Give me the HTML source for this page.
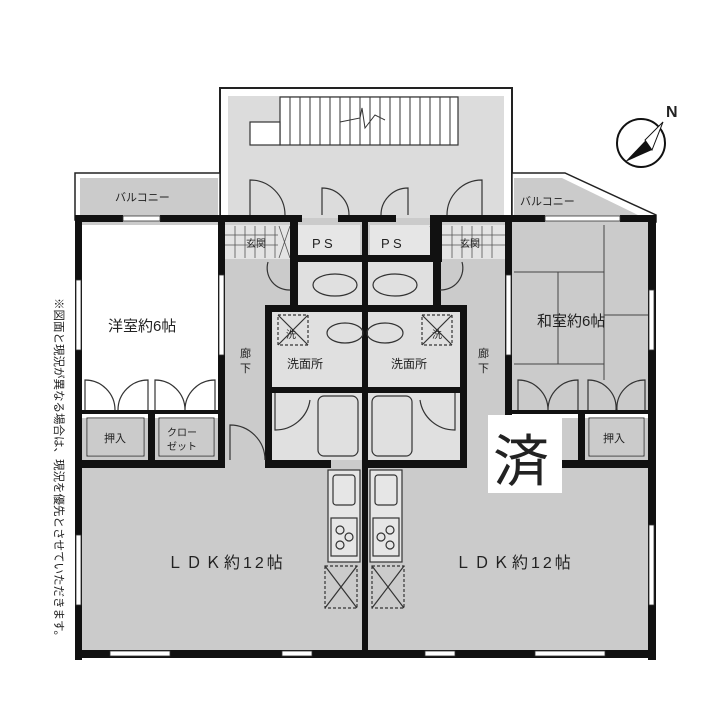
<!DOCTYPE html>
<html><head><meta charset="utf-8"><style>
html,body{margin:0;padding:0;background:#fff;}
svg{display:block}
text{font-family:"Liberation Sans","Noto Sans CJK JP",sans-serif;fill:#222}
</style></head><body>
<svg width="720" height="707" viewBox="0 0 720 707" xmlns="http://www.w3.org/2000/svg">
<rect width="720" height="707" fill="#fff"/>
<!-- stair block -->
<rect x="220" y="88" width="292" height="132" fill="#fff" stroke="#222" stroke-width="2"/>
<rect x="228" y="96" width="276" height="124" fill="#dcdcdc"/>
<rect x="280" y="97" width="178" height="48" fill="#fff" stroke="#333" stroke-width="1.2"/>
<rect x="250" y="122" width="30" height="23" fill="#fff" stroke="#333" stroke-width="1.2"/>
<g stroke="#333" stroke-width="1">
<line x1="290" y1="97" x2="290" y2="145"/><line x1="300" y1="97" x2="300" y2="145"/><line x1="310" y1="97" x2="310" y2="145"/><line x1="320" y1="97" x2="320" y2="145"/><line x1="330" y1="97" x2="330" y2="145"/><line x1="340" y1="97" x2="340" y2="145"/><line x1="350" y1="97" x2="350" y2="145"/><line x1="360" y1="97" x2="360" y2="145"/><line x1="370" y1="97" x2="370" y2="145"/><line x1="380" y1="97" x2="380" y2="145"/><line x1="390" y1="97" x2="390" y2="145"/><line x1="400" y1="97" x2="400" y2="145"/><line x1="410" y1="97" x2="410" y2="145"/><line x1="420" y1="97" x2="420" y2="145"/><line x1="430" y1="97" x2="430" y2="145"/><line x1="440" y1="97" x2="440" y2="145"/><line x1="450" y1="97" x2="450" y2="145"/>
<polyline points="340,122 360,118 362,108 365,128 375,115 385,120" fill="none"/>
</g>
<!-- balconies -->
<rect x="75" y="173" width="145" height="47" fill="#fff" stroke="#222" stroke-width="1.5"/>
<rect x="80" y="178" width="138" height="40" fill="#cbcbcb"/>
<text x="115" y="201" font-size="11">バルコニー</text>
<polygon points="512,173 565,173 656,215 656,222 512,222" fill="#fff" stroke="#222" stroke-width="1.5"/>
<polygon points="514,178 562,178 640,216 514,216" fill="#cbcbcb"/>
<text x="520" y="205" font-size="11">バルコニー</text>
<!-- interior fills -->
<rect x="78" y="218" width="578" height="440" fill="#cbcbcb"/>
<rect x="82" y="225" width="136" height="185" fill="#fff"/>
<rect x="225" y="225" width="65" height="34" fill="#e4e4e4"/>
<rect x="442" y="225" width="63" height="34" fill="#e4e4e4"/>
<rect x="298" y="225" width="62" height="33" fill="#e6e6e6"/>
<rect x="370" y="225" width="62" height="33" fill="#e6e6e6"/>
<rect x="290" y="262" width="145" height="43" fill="#e0e0e0"/>
<rect x="272" y="312" width="188" height="148" fill="#e0e0e0"/>
<rect x="82" y="410" width="136" height="8" fill="#fff"/>
<rect x="512" y="410" width="136" height="8" fill="#fff"/>
<!-- genkan hatch -->
<g stroke="#555" stroke-width="0.8">
<line x1="235" y1="226" x2="235" y2="258"/><line x1="245" y1="226" x2="245" y2="258"/><line x1="255" y1="226" x2="255" y2="258"/><line x1="265" y1="226" x2="265" y2="258"/><line x1="275" y1="226" x2="275" y2="258"/>
<line x1="225" y1="235" x2="278" y2="235"/><line x1="225" y1="245" x2="278" y2="245"/>
<line x1="452" y1="226" x2="452" y2="258"/><line x1="462" y1="226" x2="462" y2="258"/><line x1="472" y1="226" x2="472" y2="258"/><line x1="482" y1="226" x2="482" y2="258"/><line x1="492" y1="226" x2="492" y2="258"/>
<line x1="442" y1="235" x2="505" y2="235"/><line x1="442" y1="245" x2="505" y2="245"/>
<line x1="279" y1="226" x2="290" y2="258"/><line x1="290" y1="226" x2="279" y2="258"/>
<line x1="430" y1="226" x2="441" y2="258"/><line x1="441" y1="226" x2="430" y2="258"/>
</g>
<text x="246" y="247" font-size="10">玄関</text>
<text x="460" y="247" font-size="10">玄関</text>
<text x="312" y="248" font-size="13">P S</text>
<text x="381" y="248" font-size="13">P S</text>
<!-- tatami lines -->
<g stroke="#444" stroke-width="1" fill="none">
<line x1="604" y1="225" x2="604" y2="380"/><line x1="514" y1="272" x2="604" y2="272"/>
<line x1="514" y1="364" x2="604" y2="364"/><line x1="558" y1="272" x2="558" y2="364"/>
<line x1="604" y1="315" x2="648" y2="315"/>
</g>
<!-- walls -->
<g fill="#111">
<rect x="75" y="215" width="7" height="445"/>
<rect x="648" y="215" width="8" height="445"/>
<rect x="75" y="650" width="581" height="8"/>
<rect x="75" y="215" width="48" height="7"/><rect x="160" y="215" width="66" height="7"/>
<rect x="212" y="215" width="90" height="7"/><rect x="338" y="215" width="58" height="7"/><rect x="430" y="215" width="90" height="7"/>
<rect x="505" y="215" width="40" height="7"/><rect x="620" y="215" width="36" height="7"/>
<rect x="218" y="215" width="7" height="250"/>
<rect x="505" y="215" width="7" height="200"/>
<rect x="362" y="215" width="6" height="443"/>
<rect x="290" y="222" width="8" height="40"/><rect x="430" y="222" width="12" height="40"/>
<rect x="290" y="255" width="152" height="7"/>
<rect x="265" y="305" width="200" height="7"/>
<rect x="265" y="305" width="7" height="160"/><rect x="460" y="305" width="7" height="160"/>
<rect x="272" y="387" width="188" height="6"/>
<rect x="75" y="460" width="150" height="8"/><rect x="265" y="460" width="66" height="8"/><rect x="362" y="460" width="105" height="8"/><rect x="560" y="460" width="96" height="8"/>
<rect x="148" y="410" width="7" height="52"/><rect x="578" y="410" width="7" height="52"/>
<rect x="82" y="410" width="136" height="4"/><rect x="512" y="410" width="136" height="4"/>
<rect x="290" y="258" width="8" height="47"/><rect x="433" y="258" width="8" height="47"/>
</g>
<!-- windows -->
<g fill="#fff" stroke="#333" stroke-width="0.8">
<rect x="110" y="651" width="60" height="5"/><rect x="282" y="651" width="30" height="5"/>
<rect x="425" y="651" width="30" height="5"/><rect x="535" y="651" width="70" height="5"/>
<rect x="123" y="216" width="37" height="5"/><rect x="545" y="216" width="75" height="5"/>
<rect x="76" y="280" width="5" height="70"/><rect x="649" y="290" width="5" height="60"/>
<rect x="76" y="535" width="5" height="70"/><rect x="649" y="525" width="5" height="80"/>
<rect x="219" y="275" width="5" height="80"/><rect x="506" y="275" width="5" height="80"/>
</g>
<!-- doors & fixtures -->
<g fill="none" stroke="#333" stroke-width="1.2">
<path d="M250 215 V180 A35 35 0 0 1 285 215"/><path d="M322 215 V188 A27 27 0 0 1 349 215"/>
<path d="M408 215 V188 A27 27 0 0 0 381 215"/><path d="M482 215 V180 A35 35 0 0 0 447 215"/>
<path d="M268 262 A22 22 0 0 0 290 290"/><path d="M462 262 A22 22 0 0 1 440 290"/>
<path d="M85 410 V380 A30 30 0 0 1 115 410 M148 410 V380 A30 30 0 0 0 118 410"/>
<path d="M155 410 V380 A30 30 0 0 1 185 410 M215 410 V380 A30 30 0 0 0 185 410"/>
<path d="M518 410 V380 A30 30 0 0 1 548 410 M578 410 V380 A30 30 0 0 0 548 410"/>
<path d="M588 410 V380 A28 28 0 0 1 616 410 M645 410 V380 A28 28 0 0 0 617 410"/>
<path d="M230 460 V425 A35 35 0 0 1 265 460"/><path d="M275 393 V430 A35 35 0 0 0 310 400"/>
<path d="M455 393 V430 A35 35 0 0 1 420 400"/>
<rect x="318" y="396" width="40" height="60" rx="6"/><rect x="372" y="396" width="40" height="60" rx="6"/>
<ellipse cx="335" cy="285" rx="22" ry="11"/><ellipse cx="395" cy="285" rx="22" ry="11"/>
<ellipse cx="345" cy="333" rx="18" ry="10"/><ellipse cx="385" cy="333" rx="18" ry="10"/>
<rect x="278" y="315" width="30" height="30" stroke-dasharray="3 2"/><path d="M278 315 L308 345 M308 315 L278 345"/>
<rect x="422" y="315" width="30" height="30" stroke-dasharray="3 2"/><path d="M422 315 L452 345 M452 315 L422 345"/>
<rect x="328" y="470" width="32" height="92" fill="#e6e6e6"/><rect x="370" y="470" width="32" height="92" fill="#e6e6e6"/>
<rect x="333" y="475" width="22" height="30" rx="3"/><rect x="375" y="475" width="22" height="30" rx="3"/>
<rect x="331" y="518" width="26" height="38"/><rect x="373" y="518" width="26" height="38"/>
<circle cx="340" cy="530" r="4"/><circle cx="349" cy="537" r="4"/><circle cx="340" cy="545" r="4"/>
<circle cx="390" cy="530" r="4"/><circle cx="381" cy="537" r="4"/><circle cx="390" cy="545" r="4"/>
<rect x="325" y="566" width="32" height="42" stroke-dasharray="3 2"/><path d="M325 566 L357 608 M357 566 L325 608"/>
<rect x="372" y="566" width="32" height="42" stroke-dasharray="3 2"/><path d="M372 566 L404 608 M404 566 L372 608"/>
</g>
<g fill="#fff" stroke="#333" stroke-width="1"><rect x="87" y="418" width="57" height="38"/><rect x="159" y="418" width="55" height="38"/><rect x="589" y="418" width="55" height="38"/></g>
<g fill="#cbcbcb"><rect x="88" y="419" width="55" height="36"/><rect x="160" y="419" width="53" height="36"/><rect x="590" y="419" width="53" height="36"/></g>
<!-- labels -->
<text x="108" y="331" font-size="15">洋室約6帖</text>
<text x="537" y="326" font-size="15">和室約6帖</text>
<text x="287" y="368" font-size="12">洗面所</text>
<text x="391" y="368" font-size="12">洗面所</text>
<text x="286" y="338" font-size="10">洗</text><text x="432" y="338" font-size="10">洗</text>
<text x="240" y="357" font-size="11">廊</text><text x="240" y="372" font-size="11">下</text>
<text x="478" y="357" font-size="11">廊</text><text x="478" y="372" font-size="11">下</text>
<text x="104" y="442" font-size="11">押入</text>
<text x="167" y="436" font-size="10">クロー</text><text x="167" y="450" font-size="10">ゼット</text>
<text x="603" y="442" font-size="11">押入</text>
<text x="167" y="568" font-size="16" letter-spacing="3">ＬＤＫ約12帖</text>
<text x="455" y="568" font-size="16" letter-spacing="3">ＬＤＫ約12帖</text>
<rect x="488" y="415" width="74" height="78" fill="#fff"/>
<text x="493" y="481" font-size="56">済</text>
<text font-size="11.5" transform="translate(55,298) rotate(90)">※図面と現況が異なる場合は、現況を優先とさせていただきます。</text>
<!-- compass -->
<circle cx="641" cy="143" r="24" fill="#fff" stroke="#111" stroke-width="2"/>
<polygon points="663,122 652,150 625,162" fill="#111"/>
<polygon points="663,122 652,150 645,140" fill="#fff" stroke="#111"/>
<text x="666" y="117" font-size="16" font-weight="bold">N</text>
</svg>
</body></html>
